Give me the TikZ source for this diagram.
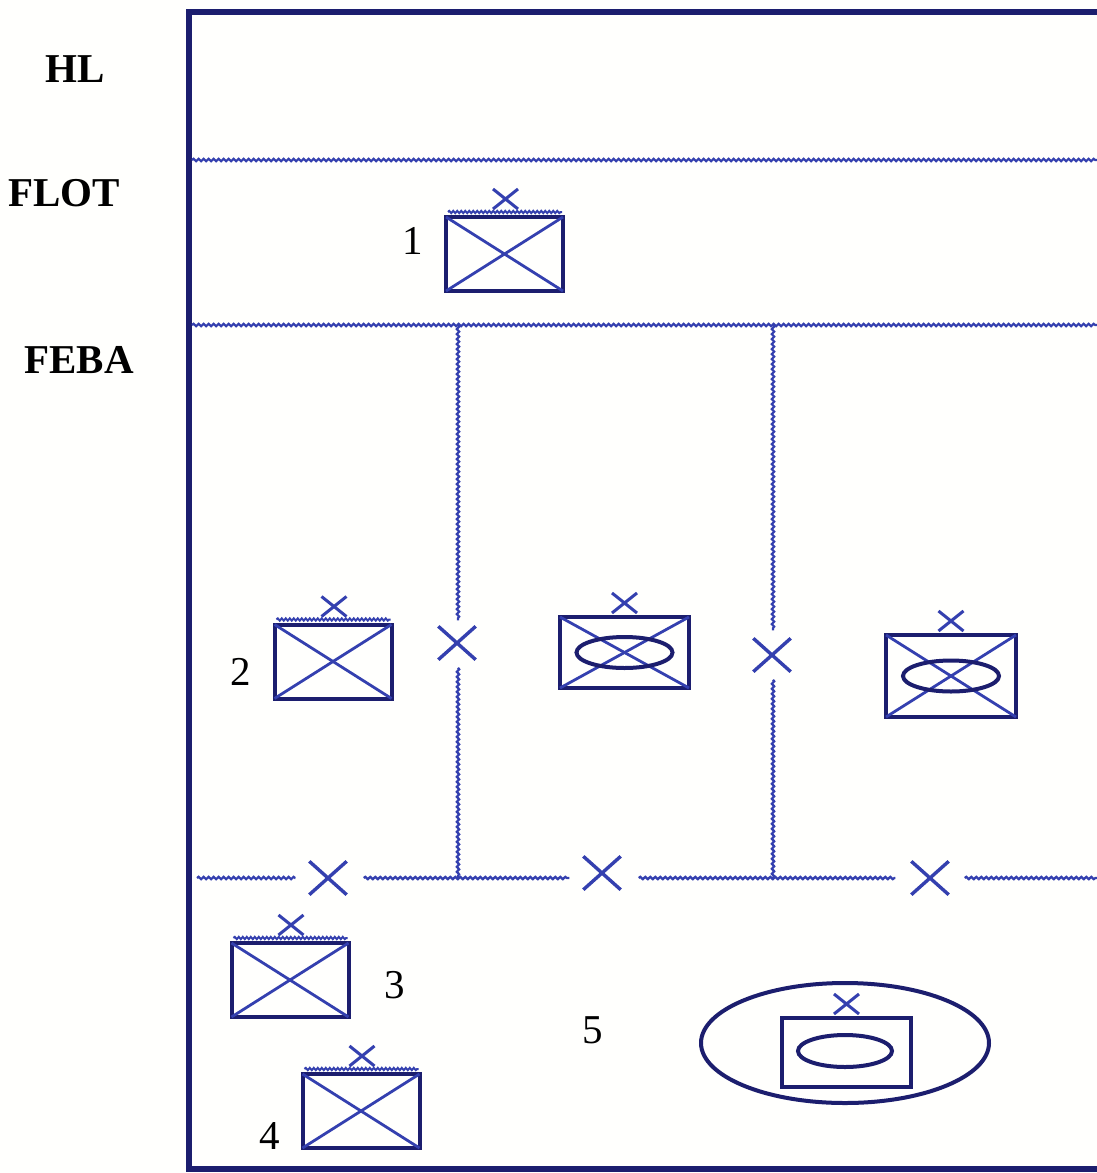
\documentclass[tikz,border=0pt]{standalone}
\usepackage{fontspec}
\setmainfont{Liberation Serif}
\usetikzlibrary{shapes.geometric, shapes.misc, decorations.pathmorphing, calc}
\definecolor{frame}{RGB}{28,30,110}
\definecolor{trace}{RGB}{52,64,175}
\definecolor{paper}{RGB}{255,255,253}

\tikzset{
  wavy/.style={trace, line width=2.2pt, decorate,
    decoration={snake, segment length=5pt, amplitude=1.2pt}},
  unitbox/.style={draw=frame, line width=4pt, rectangle, inner sep=0pt, outer sep=0pt},
  diag/.style={trace, line width=2.8pt},
  smallx/.style={cross out, draw=trace, line width=3pt, inner sep=0pt,
    minimum width=22pt, minimum height=17pt},
  bigx/.style={cross out, draw=trace, line width=3.4pt, inner sep=0pt,
    minimum width=34pt, minimum height=30pt},
  zone/.style={font=\fontsize{41}{46}\selectfont\bfseries, inner sep=0pt},
  num/.style={font=\fontsize{41}{46}\selectfont, inner sep=0pt},
  ring/.style={draw=frame, line width=4pt, ellipse, inner sep=0pt}
}

\begin{document}
\begin{tikzpicture}[x=1pt, y=-1pt]
  \useasboundingbox[fill=paper] (0,0) rectangle (1097,1173);

  % zone names
  \node[zone] (hl) at (75,69) {HL};
  \node[zone] (flot) at (64,193) {FLOT};
  \node[zone] (feba) at (79,360) {FEBA};

  % frame
  \coordinate (ftl) at (189,12);
  \coordinate (fbl) at (189,1169);
  \coordinate (ftr) at (1097,12);
  \coordinate (fbr) at (1097,1169);
  \draw[frame, line width=6pt] (ftr) -- (ftl) -- (fbl) -- (fbr);

  % phase lines
  \coordinate (flotw) at (192,160);
  \coordinate (flote) at (1097,160);
  \coordinate (febaw) at (192,325);
  \coordinate (febae) at (1097,325);
  \draw[wavy] (flotw) -- (flote);
  \draw[wavy] (febaw) -- (febae);

  % boundaries with crossing points
  \node[bigx] (bx1) at (457,643) {};
  \node[bigx] (bx2) at (772,655) {};
  \node[bigx] (bx3) at (328,878) {};
  \node[bigx] (bx4) at (602,873) {};
  \node[bigx] (bx5) at (930,878) {};
  \coordinate (ja) at (458,878);
  \coordinate (jb) at (773,878);
  \coordinate (rw) at (197,878);
  \coordinate (re) at (1097,878);
  \draw[wavy] (458,325) -- ($(bx1.north)+(1,-6)$);
  \draw[wavy] ($(bx1.south)+(1,8)$) -- (ja);
  \draw[wavy] (773,325) -- ($(bx2.north)+(1,-8)$);
  \draw[wavy] ($(bx2.south)+(1,8)$) -- (jb);
  \draw[wavy] (rw) -- ($(bx3.west)+(-14,0)$);
  \draw[wavy] ($(bx3.east)+(17,0)$) -- ($(bx4.west)+(-14,5)$);
  \draw[wavy] ($(bx4.east)+(18,5)$) -- ($(bx5.west)+(-16,0)$);
  \draw[wavy] ($(bx5.east)+(16,0)$) -- (re);

  % units 1-4 with bars
  \foreach \n/\cx/\cy in {u1/504.5/254, u2/333/661.5, u3/290/980, u4/361/1111} {
    \node[unitbox, minimum width=117pt, minimum height=74pt] (\n) at (\cx,\cy) {};
    \draw[diag] (\n.north west) -- (\n.south east);
    \draw[diag] (\n.south west) -- (\n.north east);
    \draw[wavy, line width=2pt, decoration={snake, segment length=4pt, amplitude=1.1pt}]
      ($(\n.north west)+(2,-5)$) -- ($(\n.north east)+(-1,-5)$);
    \node[smallx] (\n x) at ($(\n.north)+(1,-18)$) {};
  }
  \node[num] (n1) at (413,241) {1};
  \node[num] (n2) at (241,672) {2};
  \node[num] (n3) at (395,985) {3};
  \node[num] (n4) at (270,1136) {4};
  \node[num] (n5) at (593,1030) {5};

  % units with inner ring
  \foreach \n/\cx/\cy/\w/\h in {v1/624.5/652.5/129/71, v2/951/676/130/82} {
    \node[unitbox, minimum width=\w pt, minimum height=\h pt] (\n) at (\cx,\cy) {};
    \draw[diag] (\n.north west) -- (\n.south east);
    \draw[diag] (\n.south west) -- (\n.north east);
    \node[ring, minimum width=96pt, minimum height=31pt] (\n r) at (\n.center) {};
    \node[smallx] (\n x) at ($(\n.north)+(0,-14)$) {};
  }

  % rear area
  \node[ring, minimum width=288pt, minimum height=120pt] (big) at (845,1043) {};
  \node[unitbox, minimum width=129pt, minimum height=69pt] (hq) at (846.5,1052.5) {};
  \node[ring, minimum width=94pt, minimum height=32pt] (hqr) at (845,1051) {};
  \node[smallx] (hqx) at ($(hq.north)+(0,-14)$) {};
\end{tikzpicture}
\end{document}
